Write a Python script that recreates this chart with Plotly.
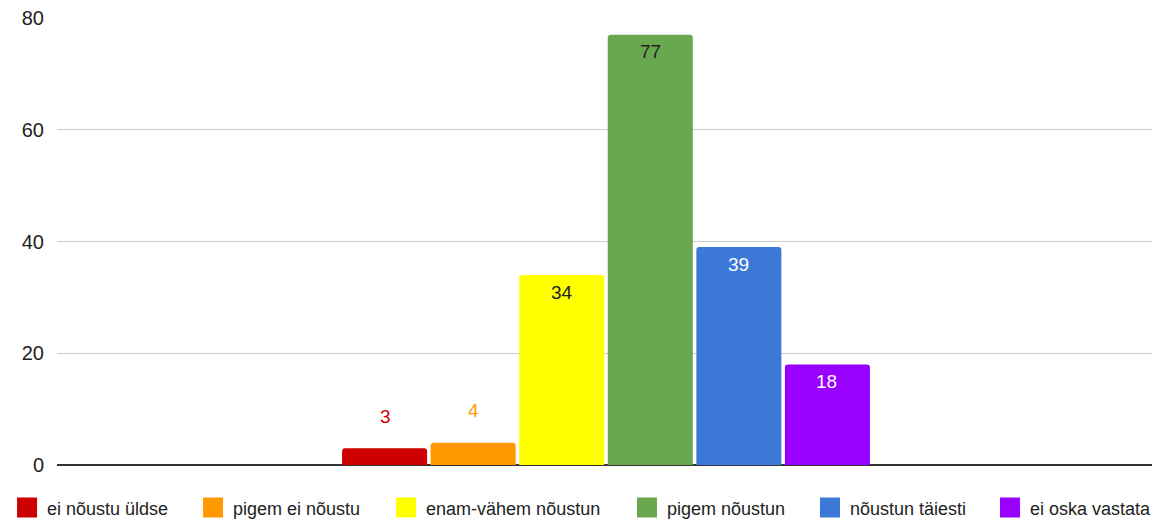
import plotly.graph_objects as go

categories = ["ei nõustu üldse", "pigem ei nõustu", "enam-vähem nõustun",
              "pigem nõustun", "nõustun täiesti", "ei oska vastata"]
values = [3, 4, 34, 77, 39, 18]
colors = ["#cc0000", "#ff9900", "#ffff00", "#6aa84f", "#3c78d8", "#9900ff"]
label_colors = ["#cc0000", "#ff9900", "#222222", "#222222", "#ffffff", "#ffffff"]
label_inside = [False, False, True, True, True, True]
y_ticks = [0, 20, 40, 60, 80]

# horizontal position (paper coords) of each legend entry
legend_x = [-0.0455, 0.1239, 0.2997, 0.5191, 0.6858, 0.8497]

FONT = "Liberation Sans, Arial, sans-serif"

# page body has an 8px default margin, so the figure is sized to fit
W, H = 1152, 513

fig = go.Figure()
for i, (name, v, c) in enumerate(zip(categories, values, colors)):
    fig.add_trace(go.Bar(
        x=[""], y=[v], name=name, legendgroup=name, showlegend=False,
        marker=dict(color=c, line=dict(width=0), cornerradius=3),
        hoverinfo="name+y",
    ))
    # legend-only entry with a larger square swatch
    fig.add_trace(go.Scatter(
        x=[None], y=[None], mode="markers", name=name, legendgroup=name,
        legend="legend" if i == 0 else f"legend{i + 1}",
        marker=dict(symbol="square", size=16, color=c,
                    line=dict(color=c, width=4)),
        hoverinfo="skip", showlegend=True,
    ))

# value labels
n = len(values)
for i, (v, lc, ins) in enumerate(zip(values, label_colors, label_inside)):
    fig.add_annotation(
        x=0, y=v, xref="x", yref="y",
        text=str(v), showarrow=False,
        xshift=(i - (n - 1) / 2) * 88.3,
        yanchor="middle", yshift=(-17 if ins else 32),
        font=dict(color=lc, size=19, family=FONT),
    )

legends = {}
for i, lx in enumerate(legend_x):
    key = "legend" if i == 0 else f"legend{i + 1}"
    legends[key] = dict(orientation="h", xref="paper", x=lx, xanchor="left",
                        yref="paper", y=-0.096, yanchor="middle",
                        font=dict(size=18, color="#222222", family=FONT),
                        itemwidth=30, bgcolor="rgba(0,0,0,0)")

fig.update_layout(
    width=W, height=H,
    margin=dict(l=49, r=5, t=10, b=56, autoexpand=False),
    paper_bgcolor="white", plot_bgcolor="white",
    barmode="group", bargap=0.516, bargroupgap=0.04,
    font=dict(family=FONT, size=16, color="#222222"),
    showlegend=True,
    xaxis=dict(showticklabels=False, showgrid=False, zeroline=False,
               showline=False, fixedrange=True, automargin=False),
    yaxis=dict(range=[0, 80], tickvals=y_ticks, showgrid=True,
               gridcolor="#cccccc", gridwidth=1, zeroline=True,
               zerolinecolor="#333333", zerolinewidth=1.5,
               tickfont=dict(size=20, color="#222222"), ticks="",
               ticklabelstandoff=12, ticklabeloverflow="allow",
               showline=False, automargin=False),
    **legends,
)

fig.write_html("out.html")
